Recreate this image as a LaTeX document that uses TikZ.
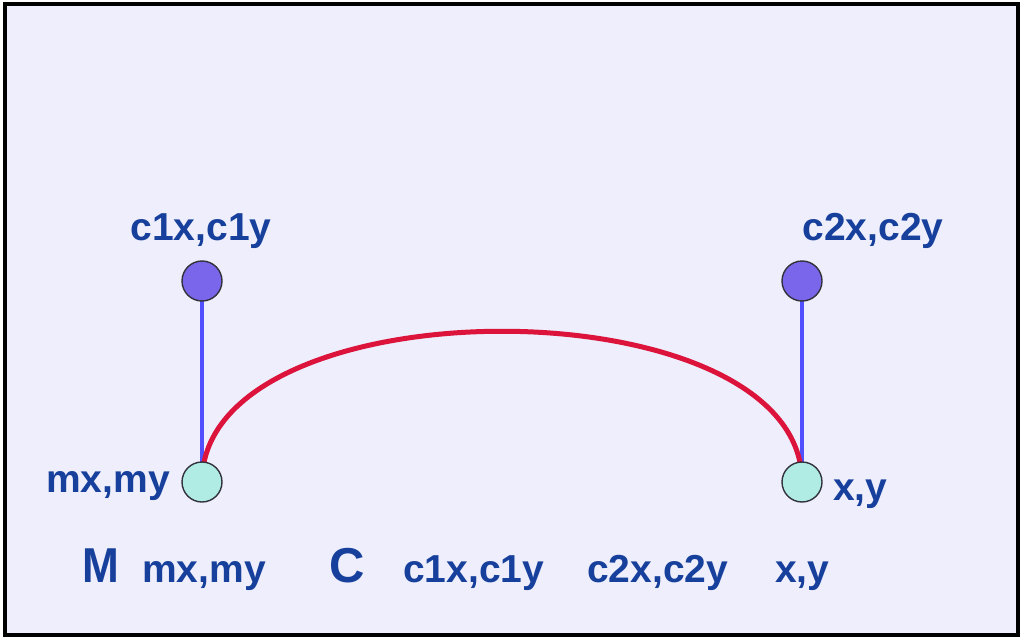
\documentclass[tikz,border=0pt]{standalone}
\usepackage{fontspec}
\setmainfont{Liberation Sans}
\usetikzlibrary{backgrounds}
\definecolor{bgfill}{RGB}{238,238,252}
\definecolor{txt}{RGB}{22,64,156}
\definecolor{ctrlfill}{RGB}{122,102,234}
\definecolor{endfill}{RGB}{176,236,228}
\definecolor{guide}{RGB}{80,80,255}
\definecolor{curvered}{RGB}{220,20,60}
\tikzset{
  lbl/.style={inner sep=0pt, text=txt, font=\fontsize{39}{46}\selectfont\bfseries},
  big/.style={inner sep=0pt, text=txt, font=\fontsize{49}{58}\selectfont\bfseries},
  ctrlpt/.style={circle, minimum size=40pt, inner sep=0pt, draw={rgb,255:red,50;green,50;blue,60}, line width=1.4pt, fill=ctrlfill},
  endpt/.style={circle, minimum size=40pt, inner sep=0pt, draw={rgb,255:red,50;green,50;blue,60}, line width=1.4pt, fill=endfill},
  guideline/.style={draw=guide, line width=3.2pt},
  bezier/.style={draw=curvered, line width=5pt},
  frame/.style={draw=black, line width=3.5pt, fill=bgfill}
}
\begin{document}
\begin{tikzpicture}[x=1pt,y=-1pt]
\useasboundingbox (0,0) rectangle (1022,639);
% points
\node[ctrlpt] (c1) at (202,281) {};
\node[ctrlpt] (c2) at (802,281) {};
\node[endpt] (m) at (202,482) {};
\node[endpt] (e) at (802,482) {};
% connectors beneath the points
\begin{scope}[on background layer]
  \path[frame] (5,4) rectangle (1018,635);
  \path[guideline] (c1.center) -- (m.center);
  \path[guideline] (c2.center) -- (e.center);
  \path[bezier] (m.center) .. controls (c1.center) and (c2.center) .. (e.center);
\end{scope}
% point labels
\node[lbl, anchor=base] (lc1) at (201,240) {c1x,c1y};
\node[lbl, anchor=base] (lc2) at (873,240) {c2x,c2y};
\node[lbl, anchor=base east] (lm) at (170,492) {mx,my};
\node[lbl, anchor=base west] (le) at (833,500) {x,y};
% command row
\node[big, anchor=base west] (tM) at (82,582) {\scalebox{0.9}[1]{M}};
\node[lbl, anchor=base west] (tm) at (142,582) {mx,my};
\node[big, anchor=base west] (tC) at (329,582) {C};
\node[lbl, anchor=base west] (t1) at (403,582) {c1x,c1y};
\node[lbl, anchor=base west] (t2) at (587,582) {c2x,c2y};
\node[lbl, anchor=base west] (t3) at (775,582) {x,y};
\end{tikzpicture}
\end{document}
